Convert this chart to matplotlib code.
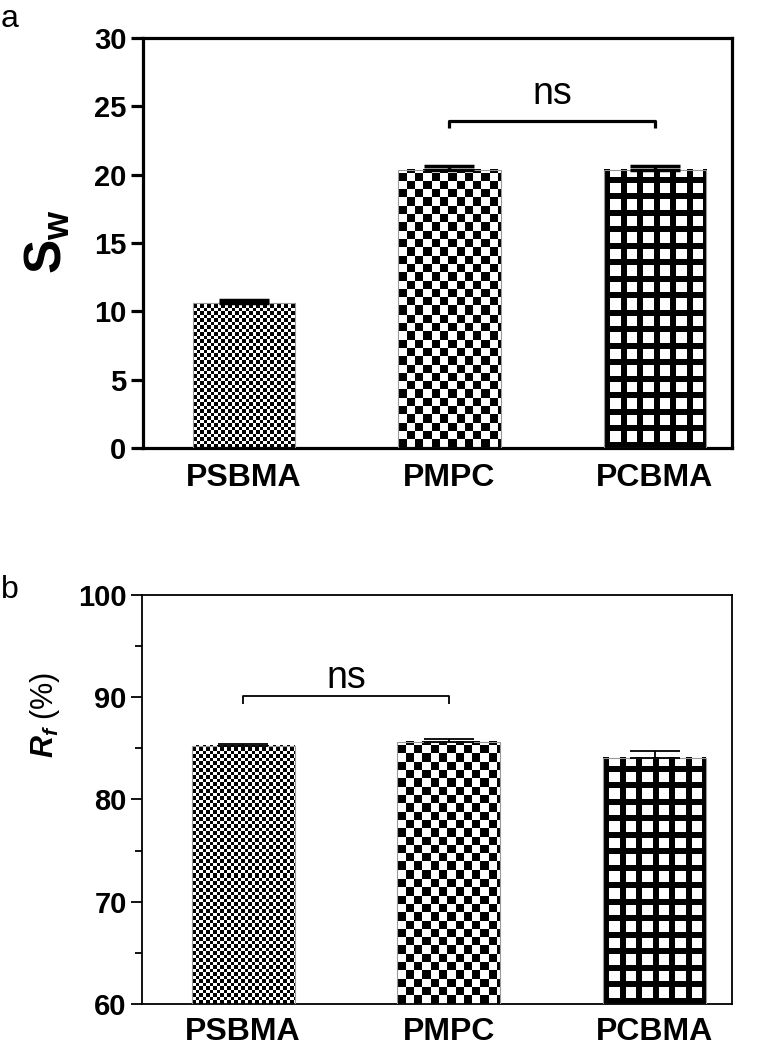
import numpy as np
import matplotlib
matplotlib.use("Agg")
import matplotlib.pyplot as plt
from matplotlib.ticker import MultipleLocator

plt.rcParams['font.family'] = ['Liberation Sans', 'DejaVu Sans']
plt.rcParams['font.weight'] = 'bold'
plt.rcParams['mathtext.fontset'] = 'custom'
plt.rcParams['mathtext.rm'] = 'Liberation Sans'
plt.rcParams['mathtext.bf'] = 'Liberation Sans:bold'
plt.rcParams['mathtext.it'] = 'Liberation Sans:italic:bold'

# data
categories = ['PSBMA', 'PMPC', 'PCBMA']
sw_vals = [10.6, 20.35, 20.35]
sw_err = [0.2, 0.25, 0.25]
rf_vals = [85.25, 85.65, 84.1]
rf_err = [0.15, 0.25, 0.6]

# fill styles: (kind, cell size px, line px)
patterns = [('checker', 3.5, 0), ('checker', 8.3, 0), ('grid', 16.5, 6)]


def make_pattern(kind, size, line, h, w):
    yy, xx = np.mgrid[0:h, 0:w]
    if kind == 'checker':
        return ((np.floor(xx / size) + np.floor(yy / size)) % 2).astype(float)
    white = ((xx % size) >= line) & ((yy % size) >= line)
    return white.astype(float)


def patterned_bars(ax, vals, errs, ybot, width, cap_lw, cap_px):
    x = np.arange(len(vals))
    ax.bar(x, np.array(vals) - ybot, width, bottom=ybot, color='white',
           edgecolor='none', zorder=1)
    xl, yl = ax.get_xlim(), ax.get_ylim()
    for i, v in enumerate(vals):
        x0, x1 = x[i] - width / 2, x[i] + width / 2
        p0 = ax.transData.transform((x0, ybot))
        p1 = ax.transData.transform((x1, v))
        w = int(round(abs(p1[0] - p0[0])))
        h = int(round(abs(p1[1] - p0[1])))
        kind, size, line = patterns[i]
        img = make_pattern(kind, size, line, h, w)
        ax.imshow(img, extent=(x0, x1, ybot, v), origin='lower', cmap='gray',
                  vmin=0, vmax=1, interpolation='nearest', aspect='auto', zorder=2)
    ax.bar(x, np.array(vals) - ybot, width, bottom=ybot, facecolor='none',
           edgecolor='#999999', linewidth=0.8, zorder=3)
    ax.errorbar(x, vals, yerr=[np.zeros(len(errs)), errs], fmt='none',
                ecolor='black', elinewidth=cap_lw, capsize=cap_px * 0.72,
                capthick=cap_lw, zorder=4)
    ax.set_xlim(xl)
    ax.set_ylim(yl)


fig = plt.figure(figsize=(7.59, 10.5), dpi=100)

# panel a
ax1 = fig.add_axes([143 / 759, 1 - 448 / 1050, (732 - 143) / 759, (448 - 38) / 1050])
ax1.set_xlim(-0.491, 2.375)
ax1.set_ylim(0, 30)
ax1.set_yticks([0, 5, 10, 15, 20, 25, 30])
ax1.set_xticks(range(3))
ax1.set_xticklabels(categories)
patterned_bars(ax1, sw_vals, sw_err, 0, 0.5, 2.5, 25)
for s in ax1.spines.values():
    s.set_linewidth(2.3)
ax1.tick_params(axis='y', direction='out', length=9, width=2.3, labelsize=21, pad=3)
ax1.tick_params(axis='x', length=0, labelsize=23, pad=11)
ax1.plot([1, 1, 2, 2], [23.45, 23.95, 23.95, 23.45], color='black', lw=2.3,
         solid_capstyle='butt', zorder=5)
ax1.text(1.5, 25.2, 'ns', ha='center', va='baseline', fontsize=27,
         fontweight='normal')

# panel b
ax2 = fig.add_axes([142 / 759, 1 - 1004 / 1050, (732 - 142) / 759, (1004 - 595) / 1050])
ax2.set_xlim(-0.491, 2.375)
ax2.set_ylim(60, 100)
ax2.set_yticks([60, 70, 80, 90, 100])
ax2.yaxis.set_minor_locator(MultipleLocator(5))
ax2.set_xticks(range(3))
ax2.set_xticklabels(categories)
patterned_bars(ax2, rf_vals, rf_err, 60, 0.5, 1.3, 25)
for s in ax2.spines.values():
    s.set_linewidth(1.3)
ax2.tick_params(axis='y', which='major', direction='out', length=8, width=1.3,
                labelsize=21, pad=3)
ax2.tick_params(axis='y', which='minor', direction='out', length=5, width=1.3)
ax2.tick_params(axis='x', length=0, labelsize=23, pad=9)
ax2.plot([0, 0, 1, 1], [89.35, 90.1, 90.1, 89.35], color='black', lw=1.3,
         solid_capstyle='butt', zorder=5)
ax2.text(0.5, 90.9, 'ns', ha='center', va='baseline', fontsize=27,
         fontweight='normal')

# axis titles and panel letters
fig.text(48 / 759, 1 - 242 / 1050, r'$\mathbf{S}_{\mathbf{w}}$', rotation=90,
         ha='center', va='center', fontsize=37)
fig.text(45 / 759, 1 - 715 / 1050, r'$R_f$ (%)', rotation=90, ha='center',
         va='center', fontsize=22, fontweight='normal')
fig.text(1 / 759, 1 - 27 / 1050, 'a', fontsize=23, fontweight='normal')
fig.text(1 / 759, 1 - 598 / 1050, 'b', fontsize=23, fontweight='normal')

fig.savefig('out.png', dpi=100)
